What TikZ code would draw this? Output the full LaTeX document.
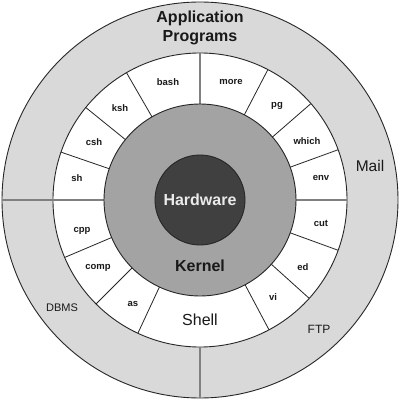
\documentclass[tikz,border=0pt]{standalone}
\usepackage{fontspec}
\setmainfont{Liberation Sans}
\begin{document}
\begin{tikzpicture}[x=1pt,y=1pt,
  ringline/.style={draw=black!85, line width=0.9pt},
  seg/.style={draw=black!85, line width=0.8pt},
  sepline/.style={draw=black!50, line width=1.3pt},
  small/.style={font=\bfseries\fontsize{9.5}{10}\selectfont, text=black!90},
  big/.style={font=\bfseries\fontsize{16}{17}\selectfont, text=black!90},
  plain/.style={font=\fontsize{12}{13}\selectfont, text=black!90},
]
\definecolor{outerg}{gray}{0.85}
\definecolor{kerng}{gray}{0.64}
\definecolor{hardg}{gray}{0.25}
\useasboundingbox (0,0) rectangle (400,400);
\fill[white] (0,0) rectangle (400,400);
\coordinate (c) at (200,200);
% rings
\filldraw[fill=outerg, ringline] (c) circle (198);
\filldraw[fill=white, ringline] (c) circle (147);
% segment boundaries
\foreach \a in {20,41,62.5,120,141,161,203,225,245,298,318,340}
  \draw[seg] (c) ++(\a:96) -- ++(\a:51);
\draw[sepline] (c) ++(90:96) -- ++(90:51);
\draw[sepline] (c) ++(0:96) -- ++(0:51);
\draw[sepline] (c) ++(180:96) -- ++(180:102);
\draw[sepline] (c) ++(270:147) -- ++(270:51);
\filldraw[fill=kerng, ringline] (c) circle (96);
\filldraw[fill=hardg, ringline] (c) circle (45);
% labels
\node[big, align=center, font=\bfseries\fontsize{16}{19}\selectfont] (app) at (200,372) {Application\\Programs};
\node[font=\bfseries\fontsize{16}{17}\selectfont, text=white!92!black] (hw) at (200,200) {Hardware};
\node[big] (kern) at (200,134) {Kernel};
\node[font=\fontsize{16}{17}\selectfont, text=black!90] (shell) at (200,80) {Shell};
\node[font=\fontsize{15.5}{17}\selectfont, text=black!90] (mail) at (370,234) {Mail};
\node[font=\fontsize{11}{12}\selectfont, text=black!90] (dbms) at (62,92) {DBMS};
\node[font=\fontsize{12}{13}\selectfont, text=black!90] (ftp) at (319,71) {FTP};
\node[small] (bash) at (168,318) {bash};
\node[small] (more) at (231,318) {more};
\node[small] (ksh) at (120,292) {ksh};
\node[small] (pg) at (277,294) {pg};
\node[small] (csh) at (94,258) {csh};
\node[small] (which) at (307,259) {which};
\node[small] (sh) at (77,222) {sh};
\node[small] (env) at (321,222) {env};
\node[small] (cpp) at (82,169) {cpp};
\node[small] (cut) at (321,177) {cut};
\node[small] (comp) at (98,132) {comp};
\node[small] (ed) at (303,133) {ed};
\node[small] (as) at (133,96) {as};
\node[small] (vi) at (273,103) {vi};
\end{tikzpicture}
\end{document}
